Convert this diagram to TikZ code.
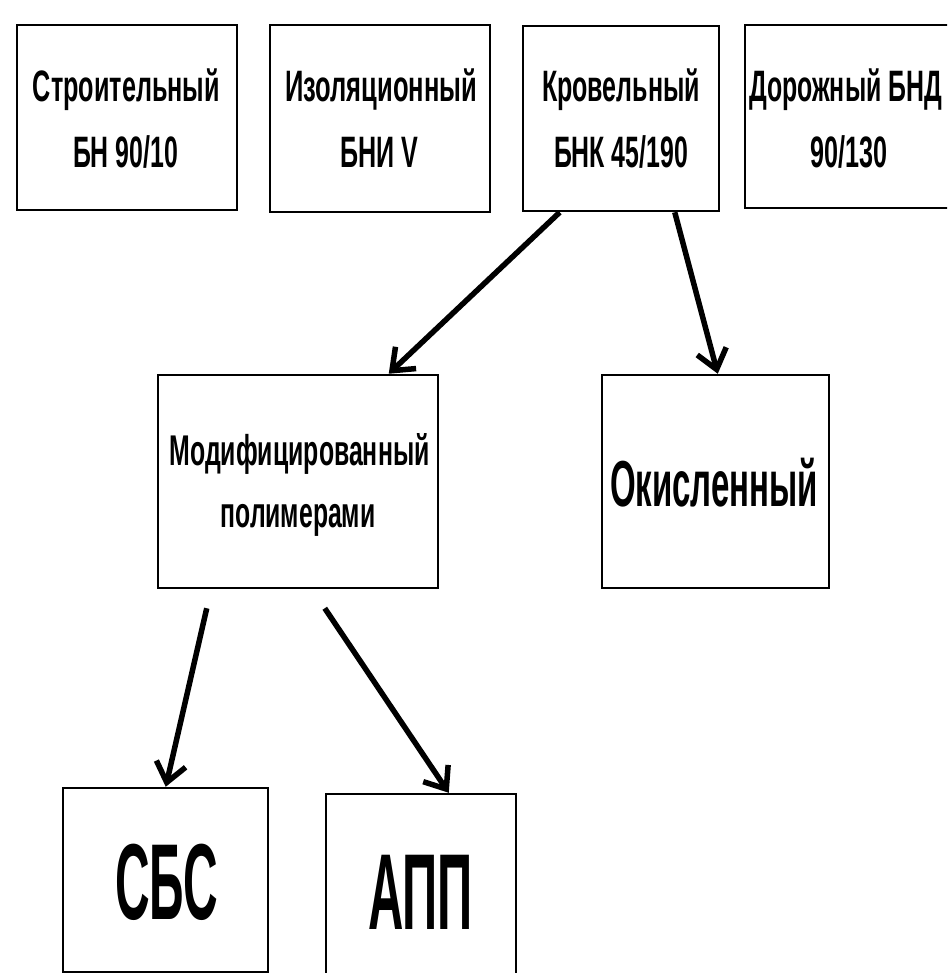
\documentclass[tikz,border=0pt]{standalone}
\usepackage{fontspec}
\setmainfont{Liberation Sans}
\usetikzlibrary{arrows.meta}
\newsavebox\fitbox
\newcommand\fitw[2]{\sbox\fitbox{#2}\pgfmathsetmacro\fitfac{#1/\the\wd\fitbox}\scalebox{\fitfac}[1]{\usebox\fitbox}}
\newcommand\fsTop{\fontsize{44}{50}\selectfont\bfseries}
\newcommand\fsMid{\fontsize{43}{48}\selectfont\bfseries}
\newcommand\fsOk{\fontsize{65}{70}\selectfont\bfseries}
\newcommand\fsBig{\fontsize{108}{110}\selectfont\bfseries}
\begin{document}
\begin{tikzpicture}[x=1pt,y=-1pt,
  box/.style={draw, line width=2.5pt, inner sep=0pt},
  lbl/.style={inner sep=0pt, anchor=base},
  arr/.style={line width=5.5pt, -{Straight Barb[length=19pt,width=30pt]}}]
\clip (0,0) rectangle (947,973);
\fill[white] (0,0) rectangle (947,973);
% boxes
\node[box, minimum width=220pt, minimum height=185pt] (b1) at (127,117.5) {};
\node[box, minimum width=220pt, minimum height=187pt] (b2) at (380,118.5) {};
\node[box, minimum width=196pt, minimum height=185pt] (b3) at (621,118.5) {};
\node[box, minimum width=215pt, minimum height=183pt] (b4) at (852.5,116.5) {};
\node[box, minimum width=280pt, minimum height=213pt] (b5) at (298,481.5) {};
\node[box, minimum width=227pt, minimum height=213pt] (b6) at (715.5,481.5) {};
\node[box, minimum width=205pt, minimum height=184pt] (b7) at (165.5,880) {};
\node[box, minimum width=190pt, minimum height=189pt] (b8) at (421,888.5) {};
% labels
\node[lbl] (t1a) at (126.5,102) {\fsTop\fitw{187}{Строительный}};
\node[lbl] (t1b) at (125.5,168) {\fsTop\fitw{105}{БН 90/10}};
\node[lbl] (t2a) at (381,102) {\fsTop\fitw{192}{Изоляционный}};
\node[lbl] (t2b) at (379,168) {\fsTop\fitw{78}{БНИ V}};
\node[lbl] (t3a) at (621,102) {\fsTop\fitw{158}{Кровельный}};
\node[lbl] (t3b) at (621,168) {\fsTop\fitw{134}{БНК 45/190}};
\node[lbl] (t4a) at (845.5,102) {\fsTop\fitw{193}{Дорожный БНД}};
\node[lbl] (t4b) at (848.5,168) {\fsTop\fitw{77}{90/130}};
\node[lbl] (t5a) at (299.5,465) {\fsMid\fitw{260}{Модифицированный}};
\node[lbl] (t5b) at (298,527) {\fsMid\fitw{155}{полимерами}};
\node[lbl] (t6) at (714,506) {\fsOk\fitw{208}{Окисленный}};
\node[lbl] (t7) at (166.5,919) {\fsBig\fitw{103}{СБС}};
\node[lbl] (t8) at (420.5,929) {\fsBig\fitw{105}{АПП}};
% connectors
\draw[arr] ([xshift=38pt]b3.south west) -- ([xshift=232pt]b5.north west);
\draw[arr] ([xshift=153pt]b3.south west) -- ([xshift=117pt]b6.north west);
\draw[arr] ([xshift=50pt,yshift=-19pt]b5.south west) -- ([xshift=104pt]b7.north west);
\draw[arr] ([xshift=168pt,yshift=-19pt]b5.south west) -- ([xshift=124pt]b8.north west);
\end{tikzpicture}
\end{document}
